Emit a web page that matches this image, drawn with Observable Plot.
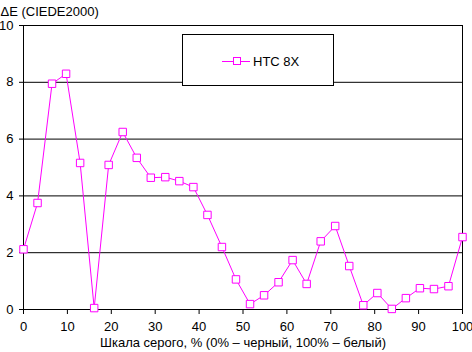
<!DOCTYPE html>
<html>
<head>
<meta charset="utf-8">
<script src="https://cdn.jsdelivr.net/npm/d3@7"></script>
<script src="https://cdn.jsdelivr.net/npm/@observablehq/plot@0.6"></script>
<style>
  html, body { margin: 0; padding: 0; background: #fff; }
  #wrap { position: relative; width: 472px; height: 352px; font-family: "Liberation Sans", Arial, sans-serif; }
  #legend { position: absolute; left: 182px; top: 34px; width: 150px; height: 50px; border: 1px solid #000; background: #fff; box-sizing: content-box; }
  #legend svg { position: absolute; left: 0; top: 0; }
</style>
</head>
<body>
<div id="wrap"></div>
<script>
const seriesName = "HTC 8X";
const grayLevels = [0, 3.2, 6.5, 9.7, 12.9, 16.1, 19.4, 22.6, 25.8, 29.0, 32.3, 35.5, 38.7, 41.9, 45.2, 48.4,
                    51.6, 54.8, 58.1, 61.3, 64.5, 67.7, 71.0, 74.2, 77.4, 80.6, 83.9, 87.1, 90.3, 93.5, 96.8, 100];
const deltaE = [2.12, 3.75, 7.95, 8.3, 5.16, 0.05, 5.09, 6.25, 5.34, 4.64, 4.66, 4.52, 4.31, 3.33, 2.2, 1.06,
                0.19, 0.5, 0.96, 1.74, 0.9, 2.4, 2.94, 1.53, 0.15, 0.58, 0.02, 0.4, 0.75, 0.72, 0.82, 2.55];
const xTicks = [0, 10, 20, 30, 40, 50, 60, 70, 80, 90, 100];
const yTicks = [0, 2, 4, 6, 8, 10];
const yTitle = "ΔE (CIEDE2000)";
const xTitle = "Шкала серого, % (0% – черный, 100% – белый)";

const data = grayLevels.map((g, i) => ({x: g, y: deltaE[i]}));
const color = "#FF00FF";

const chart = Plot.plot({
  width: 472,
  height: 352,
  marginLeft: 23,
  marginRight: 10,
  marginTop: 25,
  marginBottom: 43,
  style: {fontFamily: "'Liberation Sans', Arial, sans-serif", fontSize: "13px", color: "#000", background: "#fff"},
  x: {domain: [0, 100], label: null},
  y: {domain: [0, 10], label: null},
  marks: [
    Plot.ruleY(yTicks.filter(d => d > 0), {stroke: "#000", strokeWidth: 1, strokeOpacity: 1}),
    Plot.frame({stroke: "#000", strokeWidth: 1}),
    Plot.axisX({ticks: xTicks, tickSize: 5, tickPadding: 7, stroke: "#000", label: null, fontSize: 13}),
    Plot.axisY({ticks: yTicks, tickSize: 4, tickPadding: 6, textAnchor: "end", stroke: "#000", label: null, fontSize: 13}),
    Plot.line(data, {x: "x", y: "y", stroke: color, strokeWidth: 1}),
    Plot.dot(data, {x: "x", y: "y", symbol: "square", r: 4.2, stroke: color, fill: "#fff", strokeWidth: 1}),
    Plot.text([yTitle], {frameAnchor: "top-left", textAnchor: "start", dx: -23, dy: -19, fontSize: 13, fill: "#000"}),
    Plot.text([xTitle], {frameAnchor: "bottom", textAnchor: "middle", dy: 37, fontSize: 13, fill: "#000"})
  ]
});

const wrap = document.getElementById("wrap");
wrap.appendChild(chart);

// legend overlay
const leg = document.createElement("div");
leg.id = "legend";
const ls = d3.create("svg").attr("width", 150).attr("height", 50);
ls.append("line").attr("x1", 39).attr("x2", 67).attr("y1", 26.5).attr("y2", 26.5).attr("stroke", color).attr("stroke-width", 1);
ls.append("rect").attr("x", 50.5).attr("y", 22.5).attr("width", 7).attr("height", 7).attr("fill", "#fff").attr("stroke", color).attr("stroke-width", 1);
ls.append("text").attr("x", 70).attr("y", 31).attr("font-size", 13).attr("font-family", "'Liberation Sans', Arial, sans-serif").attr("fill", "#000").text(seriesName);
leg.appendChild(ls.node());
wrap.appendChild(leg);
</script>
</body>
</html>
